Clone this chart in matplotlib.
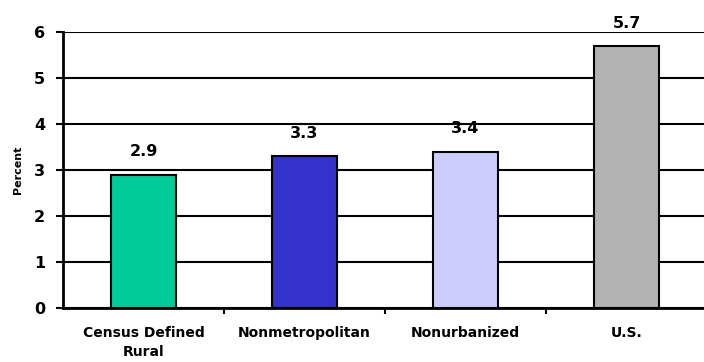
import matplotlib
matplotlib.use("Agg")
import matplotlib.pyplot as plt
import numpy as np

categories = ["Census Defined\nRural", "Nonmetropolitan", "Nonurbanized", "U.S."]
values = [2.9, 3.3, 3.4, 5.7]
colors = ["#00CC99", "#3333CC", "#CCCCFF", "#B2B2B2"]
yticks = [0, 1, 2, 3, 4, 5, 6]

fig = plt.figure(figsize=(7.04, 3.62), dpi=100)
W, H = 704, 362
left, right, top, bottom = 63, 707, 32, 308
ax = fig.add_axes([left / W, 1 - bottom / H, (right - left) / W, (bottom - top) / H])

x = np.arange(len(categories))
ax.bar(x, values, width=0.4, color=colors, edgecolor="black", linewidth=1.5, zorder=3)

ax.set_xlim(-0.5, len(categories) - 0.5)
ax.set_ylim(0, 6)
ax.set_yticks(yticks)
ax.set_yticklabels([str(t) for t in yticks], fontsize=11.5, fontweight="bold")
ax.yaxis.grid(True, color="black", linewidth=1.5, zorder=0)
ax.set_axisbelow(True)

# category labels centred, tick marks at category boundaries
ax.set_xticks(x)
ax.set_xticklabels(categories, fontsize=10, fontweight="bold", linespacing=1.45)
ax.tick_params(axis="x", length=0, pad=13)
ax.set_xticks(np.arange(0.5, len(categories) - 0.5), minor=True)
ax.tick_params(axis="x", which="minor", length=4, width=1.5, direction="out")
ax.tick_params(axis="y", length=5, width=1.5, direction="out", pad=8)

for s in ["top", "right"]:
    ax.spines[s].set_visible(False)
for s in ["left", "bottom"]:
    ax.spines[s].set_linewidth(2)

ax.set_ylabel("Percent", fontsize=8, fontweight="semibold", labelpad=8)

for xi, v in zip(x, values):
    ax.annotate(f"{v}", (xi, v), xytext=(0, 11), textcoords="offset points",
                ha="center", va="bottom", fontsize=11.5, fontweight="bold")

fig.savefig("out.png", dpi=100)
